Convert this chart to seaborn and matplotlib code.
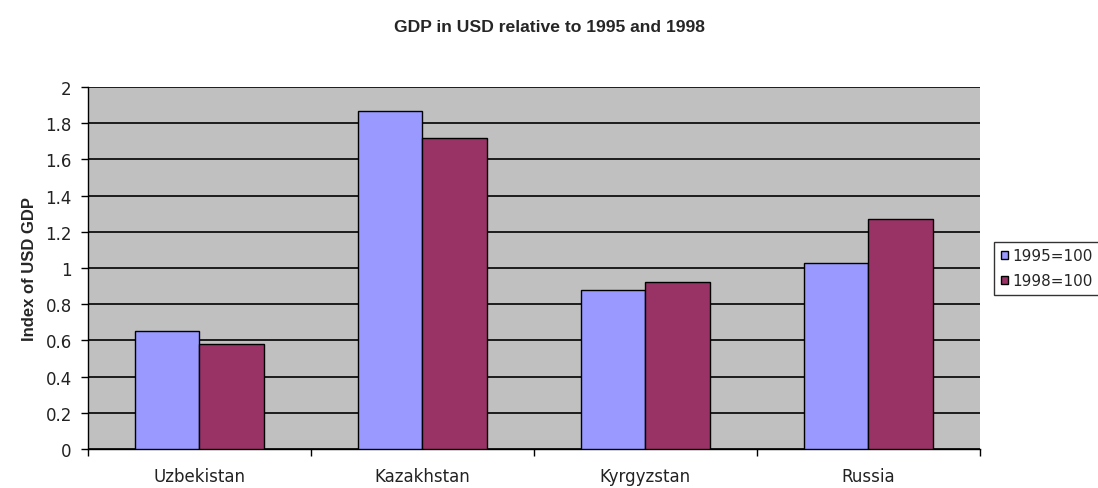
import pandas as pd
import numpy as np
import matplotlib.pyplot as plt
import seaborn as sns

countries = ["Uzbekistan", "Kazakhstan", "Kyrgyzstan", "Russia"]
idx_1995 = [0.65, 1.87, 0.88, 1.03]
idx_1998 = [0.58, 1.72, 0.92, 1.27]
series = ["1995=100", "1998=100"]

df = pd.DataFrame({
    "country": countries * 2,
    "value": idx_1995 + idx_1998,
    "series": [series[0]] * 4 + [series[1]] * 4,
})

sns.set_style("white")
plt.rcParams["font.family"] = ["DejaVu Sans"]

fig = plt.figure(figsize=(10.98, 4.89), dpi=100)
ax = fig.add_axes([0.080, 0.080, 0.8125, 0.740])
ax.set_facecolor("#C0C0C0")

sns.barplot(data=df, x="country", y="value", hue="series",
            palette=["#9999FF", "#993366"], saturation=1, width=0.58,
            edgecolor="black", linewidth=1, ax=ax, zorder=3)

ax.set_ylim(0, 2)
ax.set_xlim(-0.5, 3.5)
ax.set_yticks(np.arange(0, 2.01, 0.2))
ax.set_yticklabels(["0", "0.2", "0.4", "0.6", "0.8", "1", "1.2", "1.4", "1.6", "1.8", "2"])
ax.yaxis.grid(True, color="black", linewidth=1.2, zorder=0)
ax.set_axisbelow(True)

ax.set_xticks(range(4))
ax.set_xticks(np.arange(-0.5, 4, 1), minor=True)
ax.tick_params(axis="x", which="major", bottom=False, length=0, labelsize=12, pad=13,
               labelcolor="#222222")
ax.tick_params(axis="x", which="minor", bottom=True, length=5, width=1, color="black", direction="out")
ax.tick_params(axis="y", left=True, length=5, width=1, color="black", direction="out",
               labelsize=12, labelcolor="#222222", pad=6.5)

for s in ["top", "right"]:
    ax.spines[s].set_visible(False)
for s in ["left", "bottom"]:
    ax.spines[s].set_color("black")
    ax.spines[s].set_linewidth(1)

ax.set_xlabel("")
ax.set_ylabel("Index of USD GDP", fontsize=12, fontweight="bold", labelpad=6,
              family="Liberation Sans")
fig.suptitle("GDP in USD relative to 1995 and 1998", x=0.5, y=0.96,
             fontsize=12.6, fontweight="bold", family="Liberation Sans")

# legend sits at the right edge like the original, text kept inside the figure
ax.legend(loc="center left", bbox_to_anchor=(0.905, 0.449), bbox_transform=fig.transFigure,
          frameon=True, fancybox=False, edgecolor="black", fontsize=11,
          handlelength=0.5, handleheight=0.5, handletextpad=0.25, borderpad=0.45,
          labelspacing=0.65, borderaxespad=0)

fig.savefig("out.png", dpi=100)
